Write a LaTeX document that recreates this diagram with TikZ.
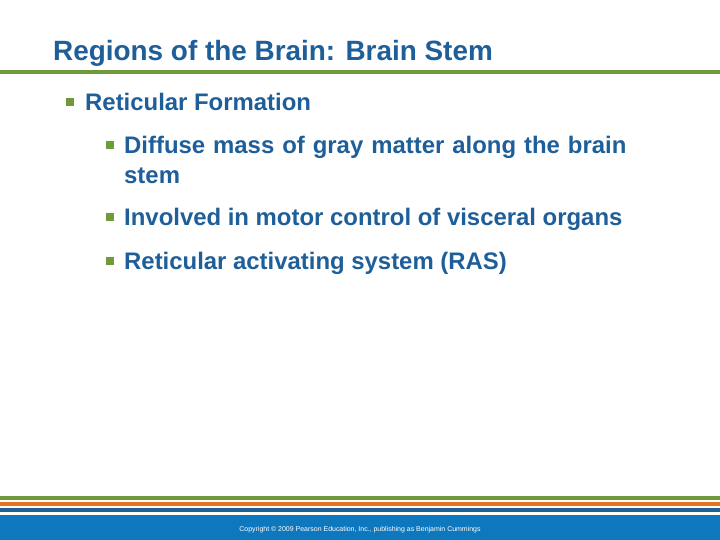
\documentclass[tikz,border=0pt]{standalone}
\usepackage{fontspec}
\setmainfont{Liberation Sans}
\definecolor{tblue}{HTML}{1F5F99}
\definecolor{tgreen}{HTML}{6E9A3C}
\definecolor{torange}{HTML}{E8731E}
\definecolor{sblue}{HTML}{1E6291}
\definecolor{bband}{HTML}{0E78BE}
\begin{document}
\begin{tikzpicture}[x=1bp,y=-1bp,
  txt/.style={anchor=base west,inner sep=0,text=tblue,font=\bfseries\fontsize{24}{30}\selectfont},
  bul/.style={fill=tgreen,minimum size=8bp,inner sep=0}]
\useasboundingbox (0,0) rectangle (720,540);
\fill[white] (0,0) rectangle (720,540);
\node[anchor=base west,inner sep=0,text=tblue,font=\bfseries\fontsize{28}{32}\selectfont] (title) at (53,61) {Regions of the Brain: Brain Stem};
\fill[tgreen] (0,70) rectangle (720,74);
\node[bul] (b1) at (70,102) {};
\node[txt] (t1) at (85,111) {Reticular Formation};
\node[bul] (b2) at (110,145) {};
\node[txt,align=left,text width=560bp] (t2) at (124,154) {Diffuse mass of gray matter along the brain\\stem};
\node[bul] (b3) at (110,217) {};
\node[txt] (t3) at (124,226) {Involved in motor control of visceral organs};
\node[bul] (b4) at (110,261) {};
\node[txt] (t4) at (124,270) {Reticular activating system (RAS)};
\fill[tgreen] (0,496) rectangle (720,500);
\fill[torange] (0,502) rectangle (720,506);
\fill[sblue] (0,508) rectangle (720,512);
\fill[bband] (0,515) rectangle (720,540);
\node[text=white,font=\fontsize{7}{8}\selectfont,inner sep=0] (copy) at (360,530) {Copyright © 2009 Pearson Education, Inc., publishing as Benjamin Cummings};
\end{tikzpicture}
\end{document}
